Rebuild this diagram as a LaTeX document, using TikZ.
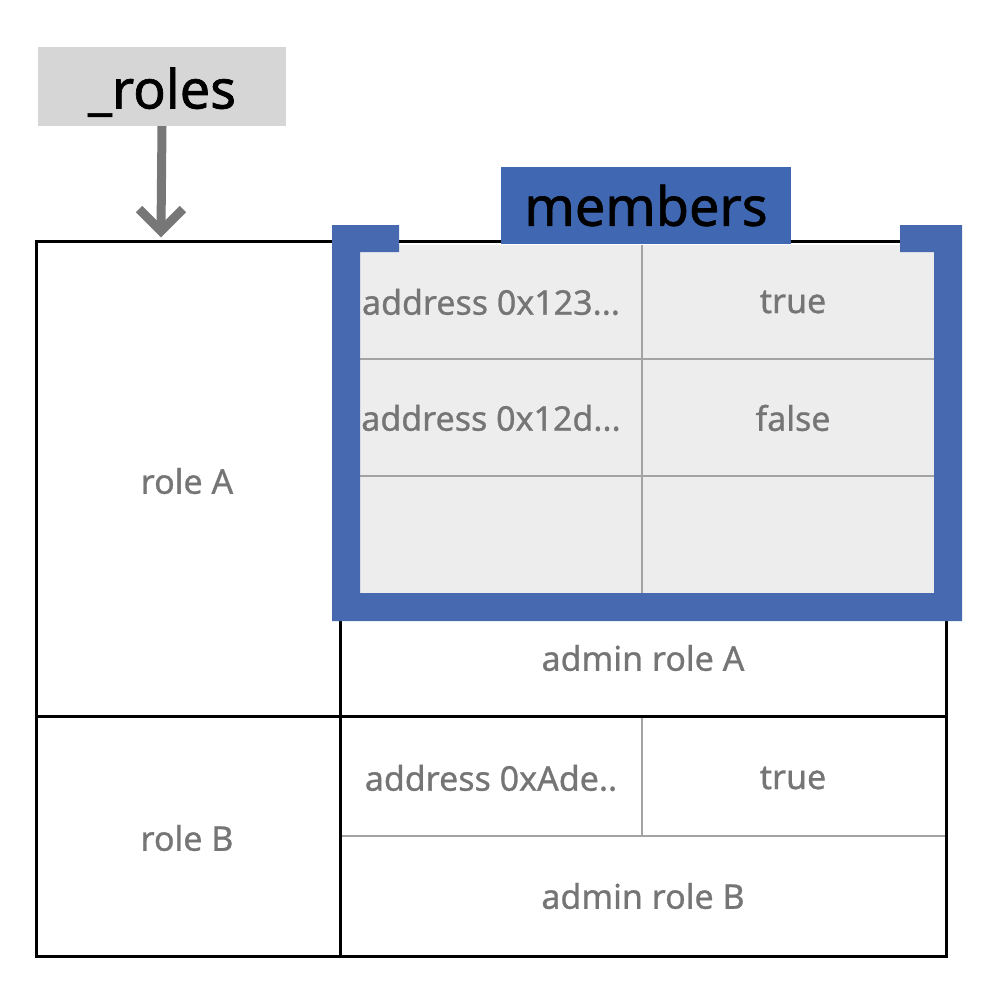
\documentclass[tikz,border=0pt]{standalone}
\usepackage{fontspec}
\setmainfont{Noto Sans}
\newfontfamily\cellfont{Noto Sans}[FakeBold=0.8]
\newfontfamily\titlefont{Noto Sans}[FakeBold=1.2]
\definecolor{framblue}{HTML}{4769B0}
\definecolor{labblue}{HTML}{4068B2}
\definecolor{txtgray}{HTML}{757575}
\definecolor{linegray}{HTML}{A3A3A3}
\definecolor{cellfill}{HTML}{EDEDED}
\definecolor{rolefill}{HTML}{D6D6D6}
\definecolor{arrgray}{HTML}{777777}
\tikzset{
  celltext/.style={text=txtgray, font=\cellfont\fontsize{34}{37}\selectfont, inner sep=0pt, anchor=center},
  titlebox/.style={text=black, font=\titlefont\fontsize{54}{58}\selectfont, inner sep=0pt, anchor=center},
  thick line/.style={line width=3pt, black},
  thin line/.style={line width=1.2pt, linegray},
}
\begin{document}
\begin{tikzpicture}[x=1pt,y=-1pt]
\useasboundingbox (0,0) rectangle (996,988);
% _roles label
\node[titlebox, fill=rolefill, minimum width=248pt, minimum height=79pt, text height=44pt, text depth=0pt] (roles) at (162,86.5) {\_roles};
\coordinate (tip) at (161,231);
% members gray area
\fill[cellfill] (360,245) rectangle (934,593);
\draw[thin line] (642,245) -- (642,593);
\draw[thin line] (360,359) -- (934,359);
\draw[thin line] (360,476) -- (934,476);
% role B section thin lines
\draw[thin line] (642,716) -- (642,836);
\draw[thin line] (340,836) -- (946,836);
% table lines
\draw[thick line] (36,241) rectangle (946,956);
\draw[thick line] (340,241) -- (340,956);
\draw[thick line] (36,716) -- (946,716);
% blue frame
\fill[framblue] (332,225) -- (399,225) -- (399,252) -- (360,252) -- (360,593) -- (934,593) -- (934,252) -- (900,252) -- (900,225) -- (962,225) -- (962,621) -- (332,621) -- cycle;
% members label
\node[titlebox, fill=labblue, minimum width=290pt, minimum height=77pt] (members) at (646,205.5) {members};
% arrow
\draw[line width=9pt, arrgray] (roles.south) -- (tip);
\draw[line width=9pt, arrgray, miter limit=4] ([shift={(-22,-22)}]tip) -- (tip) -- ([shift={(22,-22)}]tip);
% texts
\node[celltext] (roleA) at (187,481) {role A};
\node[celltext] (roleB) at (187,838) {role B};
\node[celltext] (addr1) at (491,302) {address 0x123...};
\node[celltext] (val1) at (793,302) {true};
\node[celltext] (addr2) at (491,418) {address 0x12d...};
\node[celltext] (val2) at (793,418) {false};
\node[celltext] (adminA) at (643,658) {admin role A};
\node[celltext] (addr3) at (491,778) {address 0xAde..};
\node[celltext] (val3) at (793,778) {true};
\node[celltext] (adminB) at (643,896) {admin role B};
\end{tikzpicture}
\end{document}
